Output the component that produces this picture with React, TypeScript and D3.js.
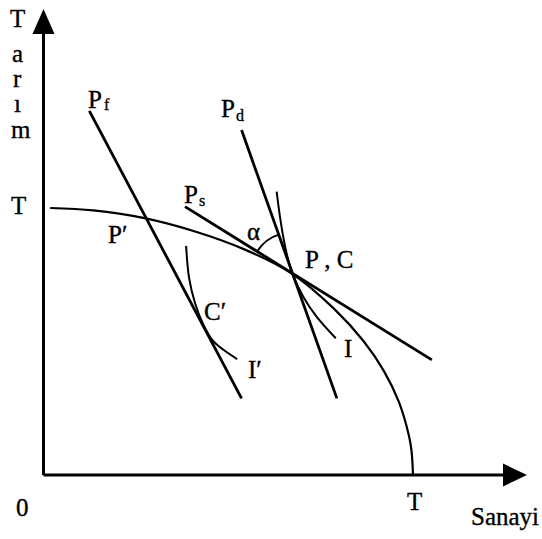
import React from "react";
import * as d3 from "d3";

// Production possibility frontier (data units: T = 100 on each axis)
const ppfX = [1.8, 13.5, 27, 40.6, 54.2, 67, 78.6, 86.7, 92.1, 96.2, 98.9, 99.6, 100];
const ppfY = [100, 99.1, 96.3, 91.4, 84.6, 75.6, 62.3, 50.0, 39.0, 27.3, 14.7, 9, 0];

// Price lines (two end points each)
const pfX = [12.4, 53.6];
const pfY = [136.4, 28.7];
const pdX = [53.6, 79.4];
const pdY = [129.2, 28.7];
const psX = [38.3, 105.1];
const psY = [100.5, 43.1];

// Indifference curves
const iX = [63.1, 64.0, 65.4, 67.2, 70.3, 73.9, 79.1];
const iY = [106.1, 96.7, 85.5, 76.0, 66.8, 59.3, 51.2];
const i2X = [38.6, 39.4, 41.0, 43.2, 45.9, 48.8, 52.4];
const i2Y = [85.8, 73.8, 64.4, 56.5, 50.2, 46.8, 43.4];

// Point P (production = consumption)
const pX = 67;
const pY = 75.8;

// vertical axis title letters
const yTitleLetters = ["T", "a", "r", "ı", "m"];

const W = 542;
const H = 539;

export default function App() {
  const x = d3.scaleLinear().domain([0, 100]).range([43.5, 413]);
  const y = d3.scaleLinear().domain([0, 100]).range([475, 208]);

  const curve = d3
    .line<[number, number]>()
    .x((d) => x(d[0]))
    .y((d) => y(d[1]))
    .curve(d3.curveCatmullRom.alpha(0.5));
  const straight = d3
    .line<[number, number]>()
    .x((d) => x(d[0]))
    .y((d) => y(d[1]));

  const zip = (a: number[], b: number[]) => a.map((v, i) => [v, b[i]] as [number, number]);

  // angle alpha arc between Ps and Pd at P
  const px = x(pX);
  const py = y(pY);
  const angTo = (ax: number, ay: number) => Math.atan2(x(ax) - px, -(y(ay) - py));
  const a0 = angTo(psX[0], psY[0]);
  const a1 = angTo(pdX[0], pdY[0]);
  const arc = d3.arc()({
    innerRadius: 40,
    outerRadius: 40,
    startAngle: a0,
    endAngle: a1 + 0.04,
  } as any) as string;

  const axisY0 = y(0);
  const axisX0 = x(0);

  const font = "'Liberation Serif', 'Times New Roman', serif";
  const fs = 25;
  const sub = 16;

  const txt = (t: string, tx: number, ty: number, size = fs) => (
    <text x={tx} y={ty} fontSize={size} fontFamily={font} fill="#000" stroke="#000" strokeWidth={0.35}>
      {t}
    </text>
  );

  const letterX = [10, 12, 13, 14, 11];
  const letterY = [27, 62, 87, 112, 138];

  return (
    <svg
      width={W}
      height={H}
      style={{ position: "absolute", left: 0, top: 0, background: "#fff" }}
    >
      <rect width={W} height={H} fill="#fff" />
      {/* axes */}
      <line x1={axisX0} y1={axisY0} x2={axisX0} y2={32} stroke="#000" strokeWidth={3} />
      <line x1={axisX0} y1={axisY0} x2={505} y2={axisY0} stroke="#000" strokeWidth={3} />
      <path d={`M${axisX0},9 L${axisX0 - 11},34 L${axisX0 + 11},34 Z`} fill="#000" />
      <path d={`M527,${axisY0} L503,${axisY0 - 11.5} L503,${axisY0 + 11.5} Z`} fill="#000" />

      {/* PPF */}
      <path d={curve(zip(ppfX, ppfY)) as string} fill="none" stroke="#000" strokeWidth={2.2} />
      {/* price lines */}
      <path d={straight(zip(pfX, pfY)) as string} fill="none" stroke="#000" strokeWidth={2.8} />
      <path d={straight(zip(pdX, pdY)) as string} fill="none" stroke="#000" strokeWidth={2.8} />
      <path d={straight(zip(psX, psY)) as string} fill="none" stroke="#000" strokeWidth={2.8} />
      {/* indifference curves */}
      <path d={curve(zip(iX, iY)) as string} fill="none" stroke="#000" strokeWidth={2} />
      <path d={curve(zip(i2X, i2Y)) as string} fill="none" stroke="#000" strokeWidth={2} />
      {/* alpha arc */}
      <path d={arc} transform={`translate(${px},${py})`} fill="none" stroke="#000" strokeWidth={2} />

      {/* vertical axis title */}
      <text fontSize={fs} fontFamily={font} fill="#000" stroke="#000" strokeWidth={0.35}>
        {yTitleLetters.map((l, i) => (
          <tspan key={i} x={letterX[i]} y={letterY[i]}>
            {l}
          </tspan>
        ))}
      </text>
      {txt("T", 11, 214)}
      {txt("0", 16, 516)}
      {txt("T", 407, 510)}
      {txt("Sanayi", 471, 525)}

      {/* line labels */}
      {txt("P", 88, 108)}
      {txt("f", 104, 110, sub)}
      {txt("P", 221, 117)}
      {txt("d", 236, 121, sub)}
      {txt("P", 184, 203)}
      {txt("s", 199, 206, sub)}
      {txt("P′", 108, 243)}
      {txt("α", 247, 240)}
      {txt("P , C", 305, 268)}
      {txt("C′", 204, 320)}
      {txt("I′", 248, 378)}
      {txt("I", 344, 357)}
    </svg>
  );
}
